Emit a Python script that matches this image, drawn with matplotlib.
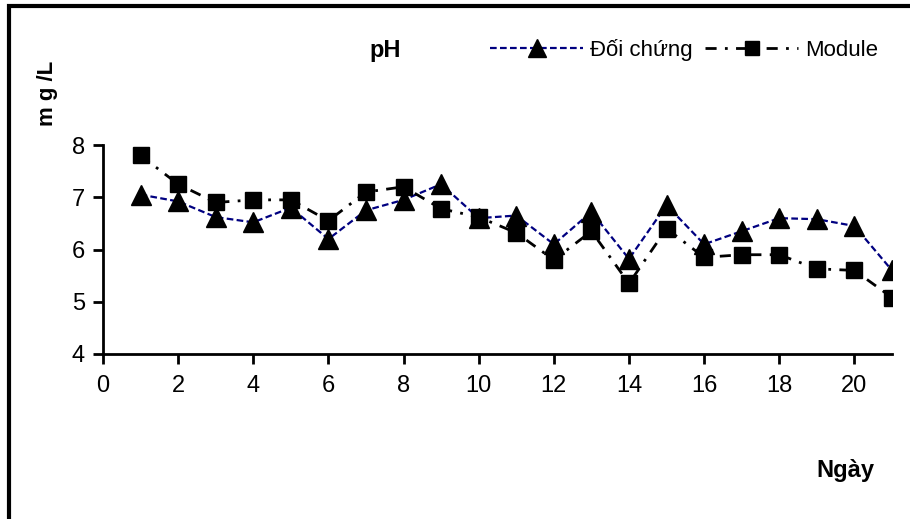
import matplotlib
matplotlib.use("Agg")
import matplotlib.pyplot as plt
from matplotlib.patches import Rectangle

plt.rcParams["font.family"] = ["Liberation Sans", "DejaVu Sans"]

ngay = list(range(1, 22))
doi_chung = [7.05, 6.92, 6.62, 6.52, 6.8, 6.2, 6.75, 6.95, 7.25, 6.6, 6.65,
             6.1, 6.72, 5.82, 6.85, 6.1, 6.35, 6.6, 6.58, 6.45, 5.6]
module = [7.8, 7.25, 6.9, 6.95, 6.95, 6.55, 7.1, 7.2, 6.78, 6.62, 6.32,
          5.8, 6.35, 5.35, 6.4, 5.85, 5.9, 5.9, 5.63, 5.6, 5.08]
xticks = list(range(0, 21, 2))
yticks = [4, 5, 6, 7, 8]

fig = plt.figure(figsize=(9.1, 5.19), dpi=100)
W, H = 910, 519
ax = fig.add_axes([103 / W, 1 - 354 / H, (892 - 103) / W, (354 - 145) / H])

l1, = ax.plot(ngay, doi_chung, color="#000080", ls=(0, (3, 1.5)), lw=1.6,
              marker="^", ms=14, mfc="black", mec="black", label="Đối chứng", zorder=3)
l2, = ax.plot(ngay, module, color="black", ls=(0, (4, 3, 1, 3)), lw=2,
              marker="s", ms=11, mfc="black", mec="black", label="Module", zorder=4)

ax.set_xlim(0, 21)
ax.set_ylim(4, 8)
ax.set_xticks(xticks)
ax.set_yticks(yticks)
ax.tick_params(axis="both", direction="out", length=7, width=2, labelsize=17, pad=6)
ax.tick_params(axis="x", pad=8)
for s in ("top", "right"):
    ax.spines[s].set_visible(False)
for s in ("left", "bottom"):
    ax.spines[s].set_linewidth(2)
ax.patch.set_alpha(0)

fig.text(385 / W, 1 - 50 / H, "pH", fontsize=17, fontweight="bold", ha="center", va="center")
fig.text(48 / W, 1 - 93 / H, "m g /L", fontsize=16, fontweight="bold", rotation=90,
         ha="center", va="center")
fig.text(845 / W, 1 - 470 / H, "Ngày", fontsize=17, fontweight="bold", ha="center", va="center")

# chú thích: hai mục đặt riêng
for h, x0 in ((l1, 490), (l2, 705)):
    fig.legend(handles=[h], loc="center left", bbox_to_anchor=(x0 / W, 1 - 50 / H),
               frameon=False, fontsize=16, handlelength=4.2, handletextpad=0.3,
               borderaxespad=0, borderpad=0, markerscale=0.95)

# khung viền ảnh
fig.patches.append(Rectangle((9 / W, -0.05), 1.1, 1 - 6 / H + 0.05, transform=fig.transFigure,
                             fill=False, ec="black", lw=3))

fig.savefig("out.png", dpi=100)
